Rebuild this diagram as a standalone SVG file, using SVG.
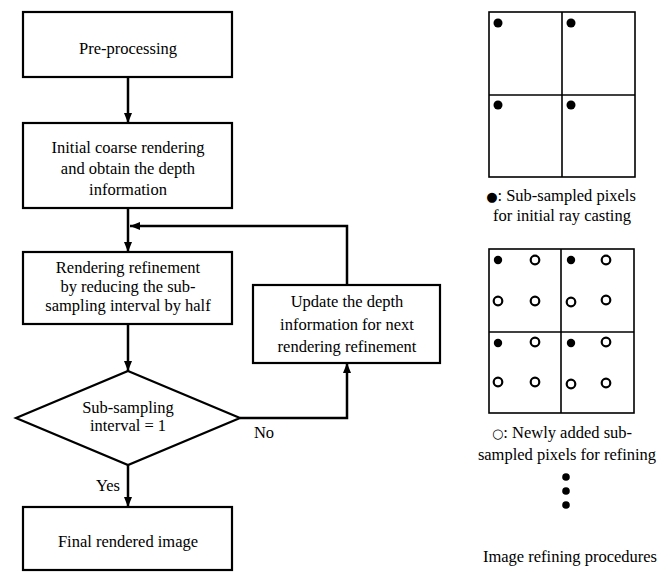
<svg xmlns="http://www.w3.org/2000/svg" width="670" height="572" viewBox="0 0 670 572">
<style>
.box{fill:#fff;stroke:#000;stroke-width:2.2}
.t{font-family:"Liberation Serif","Times New Roman",serif;font-size:16.5px;fill:#000;text-anchor:middle}
.c{fill:none;stroke:#000;stroke-width:2.5}
.g{fill:none;stroke:#000;stroke-width:1.6}
.f{fill:#000}
.o{fill:#fff;stroke:#000;stroke-width:2.2}
.sym{font-family:"DejaVu Sans",sans-serif;font-size:13px}
</style>
<defs>
<marker id="ah" markerUnits="userSpaceOnUse" markerWidth="10" markerHeight="8" refX="10" refY="4" orient="auto">
<path d="M0,0 L10,4 L0,8 z" fill="#000"/>
</marker>
</defs>
<g id="connectors">
<line class="c" x1="128" y1="77" x2="128" y2="123" marker-end="url(#ah)"/>
<line class="c" x1="128" y1="208" x2="128" y2="252" marker-end="url(#ah)"/>
<path class="c" d="M347,285 V226 H130" marker-end="url(#ah)"/>
<line class="c" x1="128" y1="324" x2="128" y2="371" marker-end="url(#ah)"/>
<path class="c" d="M240,418 H347 V363" marker-end="url(#ah)"/>
<line class="c" x1="128" y1="465" x2="128" y2="507" marker-end="url(#ah)"/>
<text class="t" x="264" y="438">No</text>
<text class="t" x="108" y="491">Yes</text>
</g>
<g id="preprocessing">
<rect class="box" x="23" y="12" width="209" height="65"/>
<text class="t" x="128" y="54">Pre-processing</text>
</g>
<g id="initial">
<rect class="box" x="23" y="123" width="209" height="85"/>
<text class="t" x="128" y="153">Initial coarse rendering</text>
<text class="t" x="128" y="174">and obtain the depth</text>
<text class="t" x="128" y="195">information</text>
</g>
<g id="refinement">
<rect class="box" x="23" y="252" width="209" height="72"/>
<text class="t" x="128" y="273">Rendering refinement</text>
<text class="t" x="128" y="292">by reducing the sub-</text>
<text class="t" x="128" y="311">sampling interval by half</text>
</g>
<g id="update">
<rect class="box" x="253" y="285" width="187" height="78"/>
<text class="t" x="347" y="307">Update the depth</text>
<text class="t" x="347" y="330">information for next</text>
<text class="t" x="347" y="352">rendering refinement</text>
</g>
<g id="decision">
<polygon class="box" points="128,371 240,418 128,465 16,418"/>
<text class="t" x="128" y="413">Sub-sampling</text>
<text class="t" x="128" y="431">interval = 1</text>
</g>
<g id="final">
<rect class="box" x="23" y="507" width="209" height="63"/>
<text class="t" x="128" y="547">Final rendered image</text>
</g>
<g id="grid1">
<rect class="g" x="489" y="12" width="146" height="165"/>
<line class="g" x1="562" y1="12" x2="562" y2="177"/>
<line class="g" x1="489" y1="95" x2="635" y2="95"/>
<circle class="f" cx="498" cy="23" r="4.5"/>
<circle class="f" cx="571" cy="23" r="4.5"/>
<circle class="f" cx="498" cy="105" r="4.5"/>
<circle class="f" cx="571" cy="105" r="4.5"/>
<text class="t" x="561" y="201"><tspan class="sym">●</tspan>: Sub-sampled pixels</text>
<text class="t" x="562" y="221">for initial ray casting</text>
</g>
<g id="grid2">
<rect class="g" x="489" y="249" width="145" height="164"/>
<line class="g" x1="561" y1="249" x2="561" y2="413"/>
<line class="g" x1="489" y1="332" x2="634" y2="332"/>
<circle class="f" cx="498" cy="260" r="4.2"/>
<circle class="f" cx="571" cy="260" r="4.2"/>
<circle class="f" cx="498" cy="343" r="4.2"/>
<circle class="f" cx="571" cy="343" r="4.2"/>
<circle class="o" cx="535" cy="260" r="4.3"/>
<circle class="o" cx="498" cy="301" r="4.3"/>
<circle class="o" cx="535" cy="301" r="4.3"/>
<circle class="o" cx="606" cy="260" r="4.3"/>
<circle class="o" cx="571" cy="302" r="4.3"/>
<circle class="o" cx="606" cy="300" r="4.3"/>
<circle class="o" cx="535" cy="342" r="4.3"/>
<circle class="o" cx="498" cy="382" r="4.3"/>
<circle class="o" cx="535" cy="382" r="4.3"/>
<circle class="o" cx="606" cy="342" r="4.3"/>
<circle class="o" cx="571" cy="384" r="4.3"/>
<circle class="o" cx="606" cy="383" r="4.3"/>
<text class="t" x="562" y="438"><tspan class="sym" font-weight="bold">○</tspan>: Newly added sub-</text>
<text class="t" x="567" y="460">sampled pixels for refining</text>
<circle class="f" cx="566" cy="477" r="3.8"/>
<circle class="f" cx="566" cy="491" r="3.8"/>
<circle class="f" cx="566" cy="505" r="3.8"/>
<text class="t" x="570" y="562">Image refining procedures</text>
</g>
</svg>
